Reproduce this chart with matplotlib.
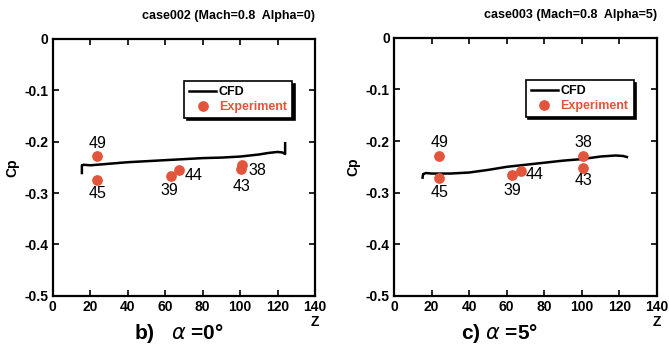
import matplotlib
matplotlib.use("Agg")
import matplotlib.pyplot as plt

plt.rcParams['font.family'] = ['Liberation Sans', 'DejaVu Sans']

# CFD lines
z_cfd0 = [15.5, 15.5, 16.5, 20, 30, 40, 50, 60, 70, 80, 90, 100, 110, 115, 120, 122.5, 124, 124]
cp_cfd0 = [-0.261, -0.246, -0.245, -0.246, -0.243, -0.240, -0.238, -0.236, -0.234,
           -0.232, -0.231, -0.229, -0.225, -0.222, -0.220, -0.221, -0.224, -0.203]
z_cfd5 = [15.2, 15.5, 17, 20, 30, 40, 50, 60, 70, 80, 90, 100, 110, 118, 122, 124]
cp_cfd5 = [-0.271, -0.264, -0.262, -0.263, -0.263, -0.261, -0.256, -0.250, -0.246,
           -0.242, -0.238, -0.235, -0.230, -0.228, -0.229, -0.231]

# experiment points
ports = ['49', '45', '39', '44', '38', '43']
z_exp0 = [23.6, 23.8, 63, 67.5, 100.8, 100.6]
cp_exp0 = [-0.227, -0.275, -0.266, -0.256, -0.246, -0.253]
z_exp5 = [24.2, 24.2, 62.7, 67.5, 100.6, 100.6]
cp_exp5 = [-0.229, -0.271, -0.265, -0.259, -0.229, -0.252]

# label positions (data coords)
lab0 = [(24, -0.203), (24, -0.300), (62, -0.296), (75, -0.265), (109, -0.256), (101, -0.288)]
lab5 = [(24, -0.203), (24, -0.300), (63, -0.295), (75, -0.264), (101, -0.203), (101, -0.276)]

titles = ['case002 (Mach=0.8  Alpha=0)', 'case003 (Mach=0.8  Alpha=5)']
captions = ['b)   $\\alpha$ =0°', 'c) $\\alpha$ =5°']
cap_x = [0.48, 0.40]
xticks = [0, 20, 40, 60, 80, 100, 120, 140]
yticks = [0, -0.1, -0.2, -0.3, -0.4, -0.5]
ylabels = ['0', '-0.1', '-0.2', '-0.3', '-0.4', '-0.5']

red = '#e2553d'

fig = plt.figure(figsize=(6.69, 3.44), dpi=100)
boxes = [[0.079, 0.140, 0.392, 0.747], [0.589, 0.140, 0.393, 0.750]]
data = [(z_cfd0, cp_cfd0, z_exp0, cp_exp0, lab0), (z_cfd5, cp_cfd5, z_exp5, cp_exp5, lab5)]

for i in range(2):
    ax = fig.add_axes(boxes[i])
    zc, cc, ze, ce, lab = data[i]
    ax.plot(zc, cc, color='black', lw=1.8, label='CFD')
    ax.scatter(ze, ce, s=45, color=red, zorder=3, label='Experiment')
    for p, (tx, ty) in zip(ports, lab):
        ax.text(tx, ty, p, ha='center', va='center', fontsize=11.5)
    ax.set_xlim(0, 140)
    ax.set_ylim(-0.5, 0)
    ax.set_xticks(xticks)
    ax.set_yticks(yticks)
    ax.set_yticklabels(ylabels)
    ax.tick_params(direction='in', top=True, right=True, length=4, width=1.2,
                   labelsize=10, pad=3)
    for t in ax.get_xticklabels() + ax.get_yticklabels():
        t.set_fontweight('bold')
    for s in ax.spines.values():
        s.set_linewidth(1.6)
    ax.set_ylabel('Cp', fontsize=10, fontweight='bold', labelpad=4)
    ax.set_title(titles[i], loc='right', fontsize=9, fontweight='bold', pad=14)
    ax.text(1.0, -0.10, 'Z', transform=ax.transAxes, ha='center', va='center',
            fontsize=10, fontweight='bold')
    ax.text(cap_x[i], -0.145, captions[i], transform=ax.transAxes, ha='center', va='center',
            fontsize=15, fontweight='bold')
    leg = ax.legend(loc='upper right', bbox_to_anchor=(0.935, 0.86), fontsize=9,
                    frameon=True, fancybox=False, shadow={'color': 'black', 'alpha': 1},
                    handlelength=2.2, handletextpad=0.2, borderpad=0.4, labelspacing=0.2,
                    labelcolor=['black', red], prop={'weight': 'bold', 'size': 9})
    leg.get_frame().set_edgecolor('black')
    leg.get_frame().set_linewidth(1.2)

fig.savefig('out.png', dpi=100)
